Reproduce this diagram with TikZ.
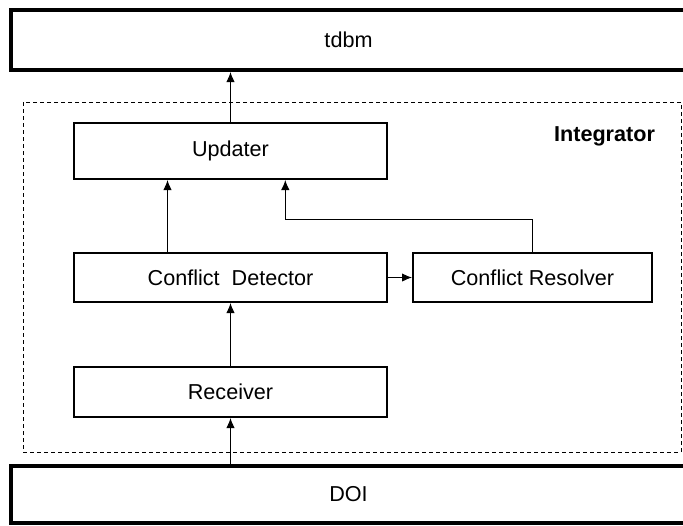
\documentclass[tikz,border=0pt]{standalone}
\usepackage{fontspec}
\setmainfont{Liberation Sans}
\usepackage{tikz}
\usetikzlibrary{arrows.meta}
\usetikzlibrary{positioning}
\usetikzlibrary{calc}

\tikzset{
  layer/.style={draw,line width=2pt,inner sep=0pt,font=\fontsize{10.8}{13}\selectfont},
  module/.style={draw,line width=1pt,inner sep=0pt,font=\fontsize{10.8}{13}\selectfont},
  flow/.style={-{Latex[length=5pt,width=4.2pt]},line width=0.5pt},
}

\begin{document}
\begin{tikzpicture}[x=0.5pt,y=-0.5pt]
        \useasboundingbox (0,0) rectangle (683,525);
        \begin{scope}
        \clip (0,0) rectangle (683,525);
        % outer layers
        \node[layer,minimum width=337.5pt,minimum height=30pt] (tdbm) at (348.5,40) {tdbm};
        \node[layer,minimum width=337.5pt,minimum height=28.5pt] (doi) at (348.5,494.5) {DOI};
        \end{scope}
        % integrator frame
        \draw[dash pattern=on 2pt off 1.5pt,line width=0.5pt] (23,102) rectangle (681,452);
        \node[anchor=base east,font=\fontsize{10.8}{13}\selectfont\bfseries] (integ) at (662,141) {Integrator};
        % modules
        \node[module,minimum width=156.5pt,minimum height=28pt] (upd) at (230.5,151) {Updater};
        \node[module,minimum width=156.5pt,minimum height=24.5pt] (cd) at (230.5,277.5) {Conflict\ \ Detector};
        \node[module,minimum width=119.5pt,minimum height=24.5pt] (cr) at (532.5,277.5) {Conflict Resolver};
        \node[module,minimum width=156.5pt,minimum height=25pt] (rcv) at (230.5,392) {Receiver};
        % connectors
        \draw[flow] (upd.north) -- (upd.north |- tdbm.south);
        \draw[flow] ($(cd.north west)!0.3!(cd.north east)$) -- ($(upd.south west)!0.3!(upd.south east)$);
        \draw[flow] (cr.north) -- ++(0,-33) -| ($(upd.south west)!0.674!(upd.south east)$);
        \draw[flow] (cd.east) -- (cr.west);
        \draw[flow] (rcv.north) -- (cd.south);
        \draw[flow] (rcv.south |- doi.north) -- (rcv.south);
\end{tikzpicture}
\end{document}
